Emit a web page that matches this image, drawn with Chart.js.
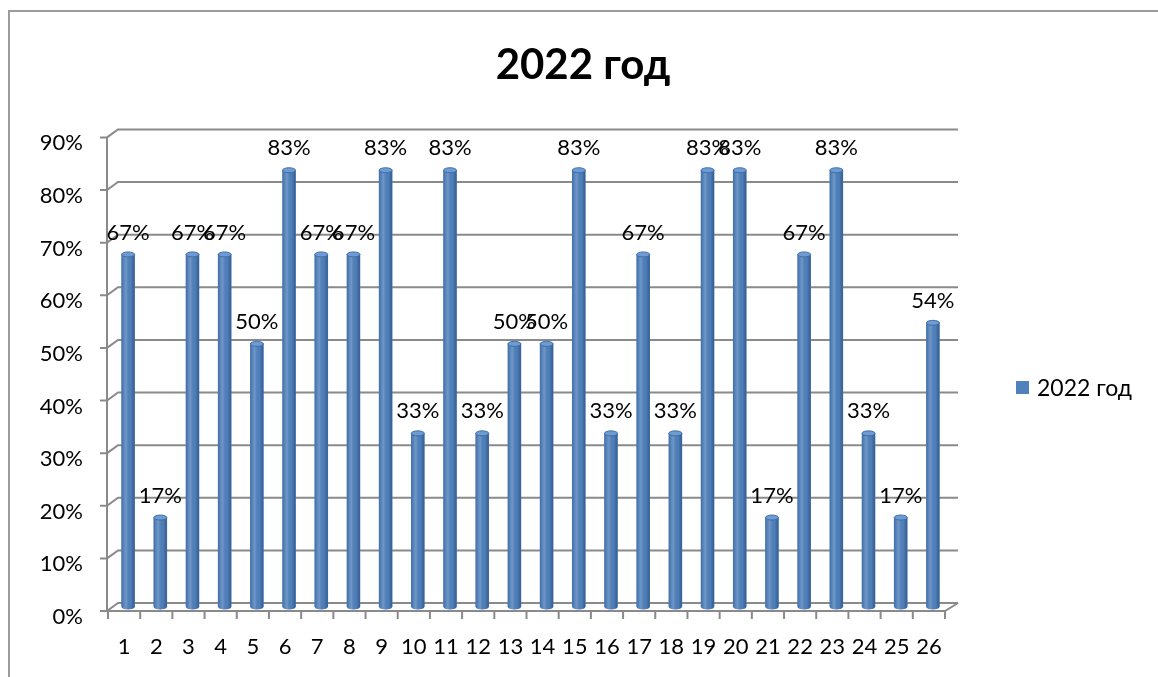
<!DOCTYPE html>
<html lang="ru">

<head>
    <meta charset="UTF-8">
    <title>2022 год</title>
    <script src="https://cdn.jsdelivr.net/npm/chart.js"></script>
    <style>
        html, body { margin: 0; padding: 0; background: #fff; }
        #wrap { width: 1158px; height: 677px; position: relative; }
    </style>
</head>

<body>
    <div id="wrap">
        <canvas id="chart"></canvas>
    </div>
    <script>
        // data
        const categories = ['1', '2', '3', '4', '5', '6', '7', '8', '9', '10', '11', '12', '13',
            '14', '15', '16', '17', '18', '19', '20', '21', '22', '23', '24', '25', '26'];
        const values2022 = [0.67, 0.17, 0.67, 0.67, 0.50, 0.83, 0.67, 0.67, 0.83, 0.33, 0.83, 0.33, 0.50,
            0.50, 0.83, 0.33, 0.67, 0.33, 0.83, 0.83, 0.17, 0.67, 0.83, 0.33, 0.17, 0.54];
        const seriesName = '2022 год';
        const yTicks = [0, 0.1, 0.2, 0.3, 0.4, 0.5, 0.6, 0.7, 0.8, 0.9];

        const FONT = 'Lato, "Noto Sans", sans-serif';
        const BAR_COLOR = '#4f81bd';
        const GRID = '#8a8a8a';
        const pct = v => Math.round(v * 100) + '%';

        // 3d frame: back wall, floor and front axis
        const frame3d = {
            id: 'frame3d',
            beforeDraw(chart) {
                const { ctx, chartArea: a, scales: { y } } = chart;
                ctx.save();
                // outer border
                ctx.strokeStyle = '#9b9b9b';
                ctx.lineWidth = 2;
                ctx.beginPath();
                ctx.moveTo(9, 677);
                ctx.lineTo(9, 11);
                ctx.lineTo(1158, 11);
                ctx.stroke();

                ctx.strokeStyle = GRID;
                ctx.lineWidth = 2;
                const backDx = 10, backDy = -4, frontDx = -1, frontDy = 4;
                yTicks.forEach(v => {
                    const py = y.getPixelForValue(v);
                    ctx.beginPath();
                    ctx.moveTo(a.left + frontDx - 7, py + frontDy);
                    ctx.lineTo(a.left + frontDx, py + frontDy);
                    ctx.lineTo(a.left + backDx, py + backDy);
                    ctx.lineTo(a.right + 13, py + backDy);
                    ctx.stroke();
                });
                // front axis line
                ctx.beginPath();
                ctx.moveTo(a.left + frontDx, y.getPixelForValue(0.9) + frontDy);
                ctx.lineTo(a.left + frontDx, a.bottom + frontDy);
                ctx.lineTo(a.right, a.bottom + frontDy);
                ctx.lineTo(a.right + 13, a.bottom + backDy);
                ctx.stroke();
                // category ticks
                const step = (a.right - a.left) / categories.length;
                for (let i = 0; i <= categories.length; i++) {
                    const px = a.left + i * step;
                    ctx.beginPath();
                    ctx.moveTo(px, a.bottom + frontDy);
                    ctx.lineTo(px, a.bottom + frontDy + 8);
                    ctx.stroke();
                }
                ctx.restore();
            },
            beforeDatasetsDraw(chart) {
                chart.ctx.save();
                chart.ctx.translate(4, 0);
            },
            afterDatasetsDraw(chart) {
                const ctx = chart.ctx;
                const meta = chart.getDatasetMeta(0);
                meta.data.forEach((bar, i) => {
                    const w = bar.width, x0 = bar.x - w / 2;
                    // cylinder shading
                    const g = ctx.createLinearGradient(x0, 0, x0 + w, 0);
                    g.addColorStop(0, 'rgba(20,50,100,0.25)');
                    g.addColorStop(0.35, 'rgba(255,255,255,0.18)');
                    g.addColorStop(0.7, 'rgba(0,0,0,0)');
                    g.addColorStop(1, 'rgba(10,30,70,0.35)');
                    ctx.fillStyle = g;
                    ctx.fillRect(x0, bar.y, w, bar.base - bar.y);
                    // bottom round
                    ctx.beginPath();
                    ctx.ellipse(bar.x, bar.base, w / 2, 2.5, 0, 0, Math.PI);
                    ctx.fillStyle = BAR_COLOR;
                    ctx.fill();
                    ctx.fillStyle = g;
                    ctx.fill();
                    // top cap
                    ctx.beginPath();
                    ctx.ellipse(bar.x, bar.y, w / 2, 2.5, 0, 0, Math.PI * 2);
                    ctx.fillStyle = '#6e9bd3';
                    ctx.fill();
                    ctx.strokeStyle = '#3f6ea8';
                    ctx.lineWidth = 1;
                    ctx.stroke();
                    // value label
                    ctx.fillStyle = '#000';
                    ctx.font = '22px ' + FONT;
                    ctx.textAlign = 'center';
                    ctx.textBaseline = 'middle';
                    ctx.fillText(pct(values2022[i]), bar.x, bar.y - 22);
                });
                ctx.restore();

                // legend
                ctx.save();
                ctx.fillStyle = BAR_COLOR;
                ctx.fillRect(1016, 381, 13, 13);
                ctx.fillStyle = '#000';
                ctx.font = '23px ' + FONT;
                ctx.textAlign = 'left';
                ctx.textBaseline = 'middle';
                ctx.fillText(chart.data.datasets[0].label, 1037, 389);
                ctx.restore();
            }
        };

        new Chart(document.getElementById('chart'), {
            type: 'bar',
            data: {
                labels: categories,
                datasets: [{
                    label: seriesName,
                    data: values2022,
                    backgroundColor: BAR_COLOR,
                    borderWidth: 0,
                    barThickness: 13
                }]
            },
            options: {
                responsive: true,
                maintainAspectRatio: false,
                animation: false,
                layout: { padding: { left: 8, right: 0, top: 0, bottom: 0 } },
                scales: {
                    x: {
                        grid: { display: false },
                        border: { display: false },
                        ticks: {
                            color: '#000',
                            font: { family: FONT, size: 22 },
                            padding: 19,
                            maxRotation: 0,
                            autoSkip: false
                        },
                        afterFit: s => { s.height = 70; }
                    },
                    y: {
                        min: 0,
                        max: 0.9,
                        grid: { display: false },
                        border: { display: false },
                        ticks: {
                            stepSize: 0.1,
                            color: '#000',
                            font: { family: FONT, size: 22 },
                            padding: 17,
                            labelOffset: 10,
                            callback: v => pct(v)
                        },
                        afterFit: s => { s.width = 100; }
                    },
                    // empty right side where the legend sits
                    side: {
                        position: 'right',
                        display: true,
                        grid: { display: false },
                        border: { display: false },
                        ticks: { display: false },
                        afterFit: s => { s.width = 213; }
                    }
                },
                plugins: {
                    legend: { display: false },
                    tooltip: { enabled: false },
                    title: {
                        display: true,
                        text: '2022 год',
                        color: '#000',
                        font: { family: FONT, size: 42, weight: 'bold' },
                        padding: { top: 40, bottom: 43 }
                    }
                }
            },
            plugins: [frame3d]
        });
    </script>
</body>

</html>
